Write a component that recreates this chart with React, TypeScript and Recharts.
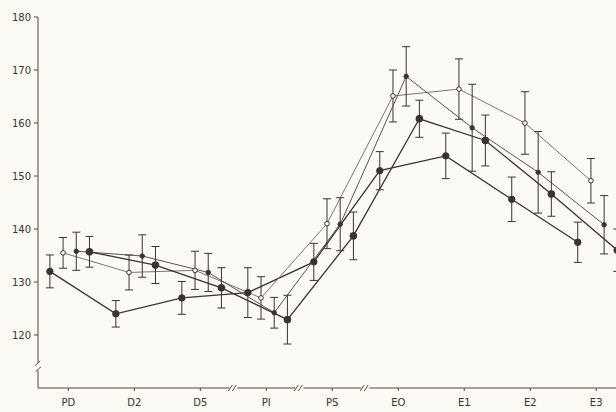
import { ErrorBar, Line, LineChart, ReferenceDot, XAxis, YAxis } from 'recharts';

const CATEGORIES = ['PD', 'D2', 'D5', 'PI', 'PS', 'EO', 'E1', 'E2', 'E3'];
const Y_TICKS = [120, 130, 140, 150, 160, 170, 180];

// four groups, measured at each stage (mean ± sem)
const GROUP_A = [132, 124, 127, 128, 133.8, 151, 153.8, 145.6, 137.5];
const GROUP_A_SEM = [3.1, 2.5, 3.1, 4.7, 3.5, 3.6, 4.3, 4.2, 3.8];

const GROUP_B = [135.5, 131.8, 132.2, 127, 141, 165.1, 166.4, 160, 149.1];
const GROUP_B_SEM = [2.9, 3.3, 3.6, 4, 4.7, 4.9, 5.7, 5.9, 4.2];

const GROUP_C = [135.8, 134.9, 131.8, 124.2, 140.9, 168.8, 159.1, 150.7, 140.8];
const GROUP_C_SEM = [3.6, 4, 3.6, 2.9, 5, 5.6, 8.2, 7.7, 5.5];

const GROUP_D = [135.7, 133.2, 128.9, 122.9, 138.7, 160.8, 156.7, 146.6, 136];
const GROUP_D_SEM = [2.9, 3.5, 3.8, 4.6, 4.5, 3.5, 4.8, 4.2, 4];

// groups are drawn side by side around each stage
const OFFSET_A = -0.28;
const OFFSET_B = -0.08;
const OFFSET_C = 0.12;
const OFFSET_D = 0.32;

const X_BREAKS = [2.5, 3.5, 4.5];

const BG = '#fbfaf5';
const INK = '#3a3330';
const AXIS = '#5e4339';

const toPoints = (values: number[], sem: number[], offset: number) =>
  values.map((v, i) => ({ x: i + offset, y: v, err: sem[i] }));

const XBreak = (props: any) => {
  const { cx, cy } = props;
  if (cx == null || cy == null) return null;
  return (
    <g>
      <rect x={cx - 4} y={cy - 3} width={8} height={6} fill={BG} />
      <line x1={cx - 5} y1={cy + 3} x2={cx - 1} y2={cy - 3} stroke={AXIS} strokeWidth={1} />
      <line x1={cx - 1} y1={cy + 3} x2={cx + 3} y2={cy - 3} stroke={AXIS} strokeWidth={1} />
    </g>
  );
};

const YBreak = (props: any) => {
  const { cx, cy } = props;
  if (cx == null || cy == null) return null;
  return (
    <g>
      <rect x={cx - 3} y={cy - 4} width={6} height={8} fill={BG} />
      <path d={`M${cx - 3},${cy - 1} Q${cx},${cy - 4} ${cx + 2},${cy - 6}`} stroke={AXIS} fill="none" />
      <path d={`M${cx - 2},${cy + 5} Q${cx},${cy + 2} ${cx + 3},${cy}`} stroke={AXIS} fill="none" />
    </g>
  );
};

const tickStyle = { fontSize: 10, fill: INK, fontFamily: 'DejaVu Sans, sans-serif' };

export default function App() {
  const a = toPoints(GROUP_A, GROUP_A_SEM, OFFSET_A);
  const b = toPoints(GROUP_B, GROUP_B_SEM, OFFSET_B);
  const c = toPoints(GROUP_C, GROUP_C_SEM, OFFSET_C);
  const d = toPoints(GROUP_D, GROUP_D_SEM, OFFSET_D);

  return (
    <div style={{ position: 'absolute', left: 0, top: 0, width: 616, height: 412, background: BG }}>
      <LineChart width={616} height={412} margin={{ top: 17, right: 0, bottom: 0, left: 0 }}>
        <XAxis
          type="number"
          dataKey="x"
          domain={[-0.46, 8.3]}
          allowDataOverflow
          ticks={CATEGORIES.map((_, i) => i)}
          interval={0}
          tickFormatter={(i: number) => CATEGORIES[i] ?? ''}
          height={24}
          tickSize={3}
          tickMargin={8}
          stroke={AXIS}
          tick={tickStyle}
        />
        <YAxis
          type="number"
          domain={[110, 180]}
          allowDataOverflow
          ticks={Y_TICKS}
          width={38}
          tickSize={4}
          tickMargin={3}
          stroke={AXIS}
          tick={tickStyle}
        />
        <Line
          data={a}
          dataKey="y"
          stroke={INK}
          strokeWidth={1.3}
          dot={{ r: 3.2, fill: INK, stroke: INK, strokeWidth: 1 }}
          isAnimationActive={false}
        >
          <ErrorBar dataKey="err" direction="y" width={4} stroke={INK} strokeWidth={1} />
        </Line>
        <Line
          data={b}
          dataKey="y"
          stroke="#7d7570"
          strokeWidth={1}
          dot={{ r: 2.3, fill: BG, stroke: INK, strokeWidth: 1 }}
          isAnimationActive={false}
        >
          <ErrorBar dataKey="err" direction="y" width={4} stroke={INK} strokeWidth={1} />
        </Line>
        <Line
          data={c}
          dataKey="y"
          stroke="#5a524d"
          strokeWidth={1}
          dot={{ r: 2.2, fill: INK, stroke: INK, strokeWidth: 1 }}
          isAnimationActive={false}
        >
          <ErrorBar dataKey="err" direction="y" width={4} stroke={INK} strokeWidth={1} />
        </Line>
        <Line
          data={d}
          dataKey="y"
          stroke={INK}
          strokeWidth={1.3}
          dot={{ r: 3.4, fill: INK, stroke: INK, strokeWidth: 1 }}
          isAnimationActive={false}
        >
          <ErrorBar dataKey="err" direction="y" width={4} stroke={INK} strokeWidth={1} />
        </Line>
        {X_BREAKS.map((x) => (
          <ReferenceDot key={x} x={x} y={110} ifOverflow="visible" shape={XBreak} />
        ))}
        <ReferenceDot x={-0.46} y={114} ifOverflow="visible" shape={YBreak} />
      </LineChart>
    </div>
  );
}
